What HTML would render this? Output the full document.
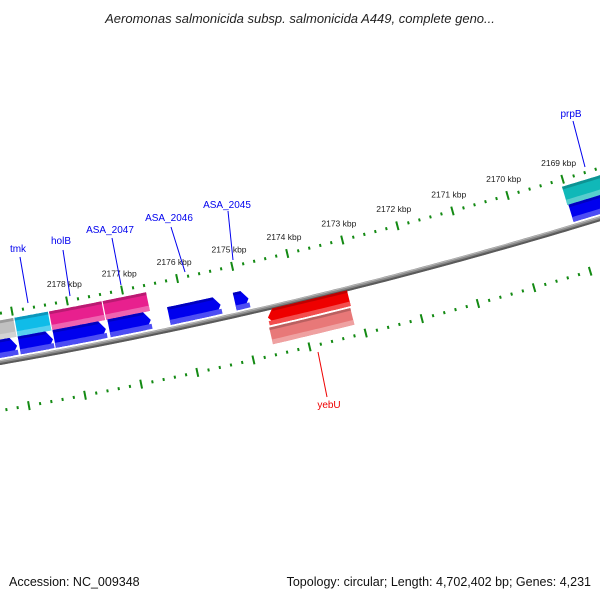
<!DOCTYPE html>
<html><head><meta charset="utf-8"><style>
html,body{margin:0;padding:0;background:#fff}
svg{display:block;font-family:"Liberation Sans","DejaVu Sans",sans-serif}
</style></head><body>
<svg id="map" width="600" height="600" viewBox="0 0 600 600" xmlns="http://www.w3.org/2000/svg">
<rect width="600" height="600" fill="#fff"/>
<text x="300" y="23" text-anchor="middle" font-size="13" font-style="italic" fill="#222">Aeromonas salmonicida subsp. salmonicida A449, complete geno...</text>
<g id="ticks"></g>
<g id="backbone"></g>
<g id="features"></g>
<g id="labels"></g>
<text x="9" y="586" font-size="12.5" fill="#111">Accession: NC_009348</text>
<text x="591" y="586" text-anchor="end" font-size="12.5" fill="#111">Topology: circular; Length: 4,702,402 bp; Genes: 4,231</text>
</svg>
<script>
// data
const featNames = ["feat-gray","tmk","holB","ASA_2047","prpB","cds-a","cds-b","cds-c","cds-d","ASA_2046","ASA_2045","cds-e","yebU","yebU-hit"];
const featStart = [2179400,2178989,2178360,2177388,2169059,2179475,2178989,2178360,2177370,2176291,2175104,2169041,2174600,2174618];
const featEnd   = [2178989,2178360,2177388,2176579,2168000,2179007,2178360,2177406,2176597,2175337,2174834,2168000,2173125,2173143];
const featTrack = [1,1,1,1,1,2,2,2,2,2,2,2,3,4];
const featDir   = [0,0,0,0,0,1,1,1,1,1,1,0,-1,0];
const featColor = ["#c0c0c0","#10bce8","#e8208e","#e8208e","#10b8b8","#0000ee","#0000ee","#0000ee","#0000ee","#0000ee","#0000ee","#0000ee","#ee0000","#e87878"];
const tickStart = 2168000, tickEnd = 2180000, tickStep = 200;
const kbpLabels = [2178,2177,2176,2175,2174,2173,2172,2171,2170,2169];

const NS="http://www.w3.org/2000/svg";
const trackOff = {1:[-41,-22],2:[-22,-4],3:[2,18],4:[20,37]};
function B(x){return 362-0.175*x-0.000108*x*x;}
function S(x){return -0.175-0.000216*x;}
function pt(xb,off){const s=S(xb),L=Math.sqrt(1+s*s);const ux=s/L,uy=-1/L;return [xb+ux*(-off),B(xb)+uy*(-off)];}
function bpX(bp){return 76+(2178000-bp)/1000*55.6;}
function mk(tag,attrs,parent){const e=document.createElementNS(NS,tag);for(const k in attrs)e.setAttribute(k,attrs[k]);parent.appendChild(e);return e;}

// backbone
const bb=document.getElementById('backbone');
function line(off){let p=[];for(let x=-20;x<=620;x+=5){p.push(pt(x,off).map(v=>v.toFixed(1)).join(','));}return p.join(' ');}
let b1=mk('polyline',{points:line(0.5),fill:'none',stroke:'#8a8a8a','stroke-width':5},bb);


let b2=mk('polyline',{points:line(2),fill:'none',stroke:'#5a5a5a','stroke-width':2},bb);


let b3=mk('polyline',{points:line(-1.2),fill:'none',stroke:'#b8b8b8','stroke-width':1},bb);



// ticks
const tg=document.getElementById('ticks');
for(let bp=tickStart;bp<=tickEnd;bp+=tickStep){
  const xb=bpX(bp);const major=bp%1000===0;
  [[-48,'outer'],[48,'inner']].forEach(([c,side])=>{
    const h=major?4.5:1.5;
    const a=pt(xb,c-h),b=pt(xb,c+h);
    const t=mk('line',{x1:a[0],y1:a[1],x2:b[0],y2:b[1],stroke:'#138a13','stroke-width':2},tg);
    
    
  });
}
kbpLabels.forEach(k=>{
  const p=pt(bpX(k*1000),-62);
  const t=mk('text',{x:p[0],y:p[1],'text-anchor':'middle','font-size':'8.5',fill:'#222'},tg);
  t.textContent=k+' kbp';
  
  
});

// features
const fg=document.getElementById('features');
function lighten(c,f){const n=parseInt(c.slice(1),16);let r=n>>16,g=(n>>8)&255,b=n&255;r=Math.round(r+(255-r)*f);g=Math.round(g+(255-g)*f);b=Math.round(b+(255-b)*f);return `rgb(${r},${g},${b})`;}
function darken(c,f){const n=parseInt(c.slice(1),16);return `rgb(${Math.round((n>>16)*f)},${Math.round(((n>>8)&255)*f)},${Math.round((n&255)*f)})`;}
function band(a,b,o1,o2,dir){
  const head=6;let top=[],bot=[];
  let a2=a,b2=b;if(dir===1)b2=b-head;if(dir===-1)a2=a+head;
  for(let x=a2;x<b2;x+=2){top.push(pt(x,o1));}
  top.push(pt(b2,o1));
  for(let x=b2;x>a2;x-=2){bot.push(pt(x,o2));}
  bot.push(pt(a2,o2));
  let pts=[];
  if(dir===-1)pts.push(pt(a,(o1+o2)/2));
  pts=pts.concat(top);
  if(dir===1)pts.push(pt(b,(o1+o2)/2));
  pts=pts.concat(bot);
  return pts.map(p=>p[0].toFixed(1)+','+p[1].toFixed(1)).join(' ');
}
featStart.forEach((s,i)=>{
  let a=bpX(s),b=bpX(featEnd[i]);if(a>b){const t=a;a=b;b=t;}
  a+=0.6;b-=0.6;
  const [o1,o2]=trackOff[featTrack[i]];const d=featDir[i];
  const g=mk('g',{},fg);
  
  
  mk('polygon',{points:band(a,b,o1,o2,d),fill:featColor[i]},g);
  const h=o2-o1;
  mk('polygon',{points:band(a,b,o1+h*0.72,o2,0),fill:lighten(featColor[i],0.3),'clip-path':''},g);
  mk('polygon',{points:band(d===-1?a+6:a,d===1?b-6:b,o1,o1+h*0.15,0),fill:darken(featColor[i],0.8)},g);
});

// labels
const lg=document.getElementById('labels');
const labText=["tmk","holB","ASA_2047","ASA_2046","ASA_2045","prpB","yebU"];
const labPos=[[18,252],[61,244],[110,233],[169,221],[227,208],[571,117],[329,408]];
const labLine=[[20,257,28,303],[63,250,70,296],[112,238,121,285],[171,227,185,272],[228,211,233,260],[573,121,585,167],[318,352,327,397]];
labText.forEach((t,i)=>{
  const col=t==="yebU"?"#e00":"#00e";
  const l=mk('line',{x1:labLine[i][0],y1:labLine[i][1],x2:labLine[i][2],y2:labLine[i][3],stroke:col,'stroke-width':1},lg);
  
  
  const tx=mk('text',{x:labPos[i][0],y:labPos[i][1],'text-anchor':'middle','font-size':'10',fill:col},lg);
  tx.textContent=t;
  
  
});
</script>
</body></html>
